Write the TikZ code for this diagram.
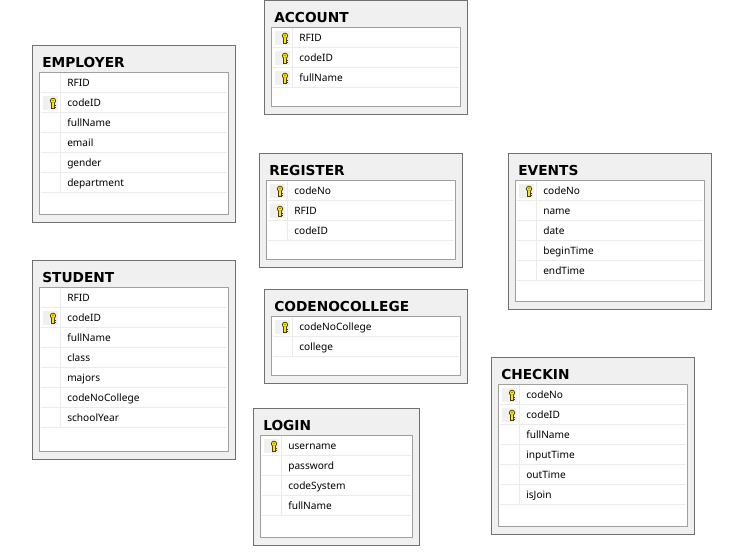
\documentclass[tikz,border=0pt]{standalone}
\usepackage{fontspec}
\setmainfont{Noto Sans}
\newfontfamily\titlefont{DejaVu Sans Bold}
\usetikzlibrary{positioning}
\definecolor{panelbg}{HTML}{F0F0F0}
\definecolor{panelline}{HTML}{707070}
\definecolor{gridline}{HTML}{A0A0A0}
\definecolor{rowline}{HTML}{EBEBEB}
\definecolor{keyfill}{HTML}{F8E41C}
\definecolor{keyline}{HTML}{4A4000}
\newcommand{\pxs}{0.75pt}
\tikzset{
    panel/.style = {draw=panelline, fill=panelbg, line width=\pxs, anchor=north west, inner sep=0pt, outer sep=0pt},
    grid/.style = {draw=gridline, fill=white, line width=\pxs, anchor=north west, inner sep=0pt, outer sep=0pt},
    title/.style = {anchor=base west, inner sep=0pt, font=\titlefont\fontsize{10.3pt}{12pt}\selectfont},
    field/.style = {anchor=base west, inner sep=0pt, font=\fontsize{7.6pt}{9pt}\selectfont, text=black},
    keycell/.style = {fill=panelbg, draw=none, anchor=west, inner sep=0pt, outer sep=0pt, minimum width=15*\pxs, minimum height=14*\pxs},
    rowrule/.style = {draw=rowline, line width=\pxs},
    keyicon/.pic = {
        \draw[keyline, line width=0.7*\pxs, fill=keyfill] (0,-2.4) circle (2.7);
        \fill[keyline] (0,-2.9) circle (0.7);
        \draw[keyline, line width=3.2*\pxs] (0,0) -- (0,5.4);
        \draw[keyfill, line width=1.8*\pxs] (0,-0.6) -- (0,5);
        \draw[keyline, line width=0.9*\pxs] (1,2) -- (2.8,2) (1,4.2) -- (2.8,4.2);
    }
}
% one table: name, x, y, width, height, title, rows (field/iskey)
\newcommand{\dbtable}[7]{
    \node[panel, minimum width=(#4-1)*\pxs, minimum height=(#5-0.5)*\pxs] (#1) at (#2,#3) {};
    \node[grid, minimum width=(#4-15)*\pxs, minimum height=(#5-35)*\pxs] (#1grid) at (#2+7,#3+27) {};
    \node[title] (#1title) at (#2+10,#3+22.3) {#6};
    \foreach \fld/\iskey [count=\i] in {#7} {
        \coordinate (#1row\i) at (#2+8.5,#3+27+20*\i);
        \draw[rowrule] (#1row\i) -- ++(#4-17.5,0);
        \draw[rowrule] (#2+28,#3+27+20*\i-20) -- (#2+28,#3+27+20*\i);
        \node[field] (#1fld\i) at (#2+35,#3+27+20*\i-5.7) {\fld};
        \ifnum\iskey=1
            \node[keycell] (#1cell\i) at (#2+11,#3+27+20*\i-10) {};
            \pic at (#2+21,#3+27+20*\i-9.5) {keyicon};
        \fi
    }
}

\begin{document}
\begin{tikzpicture}[x=\pxs, y=-\pxs]
        \useasboundingbox (0,0) rectangle (738,554);
        
        \begin{scope}[yshift=-0.5pt]
        \dbtable{account}{264}{0}{204}{114}{ACCOUNT}{RFID/1,codeID/1,fullName/1}
        \dbtable{employer}{32}{45}{204}{177}{EMPLOYER}{RFID/0,codeID/1,fullName/0,email/0,gender/0,department/0}
        \dbtable{register}{259}{153}{204}{114}{REGISTER}{codeNo/1,RFID/1,codeID/0}
        \dbtable{events}{508}{153}{204}{156}{EVENTS}{codeNo/1,name/0,date/0,beginTime/0,endTime/0}
        \dbtable{student}{32}{260}{204}{199}{STUDENT}{RFID/0,codeID/1,fullName/0,class/0,majors/0,codeNoCollege/0,schoolYear/0}
        \dbtable{codenocollege}{264}{289}{204}{94}{CODENOCOLLEGE}{codeNoCollege/1,college/0}
        \dbtable{login}{253}{408}{167}{137}{LOGIN}{username/1,password/0,codeSystem/0,fullName/0}
        \dbtable{checkin}{491}{357}{204}{177}{CHECKIN}{codeNo/1,codeID/1,fullName/0,inputTime/0,outTime/0,isJoin/0}
        \end{scope}
        
    \end{tikzpicture}
\end{document}
